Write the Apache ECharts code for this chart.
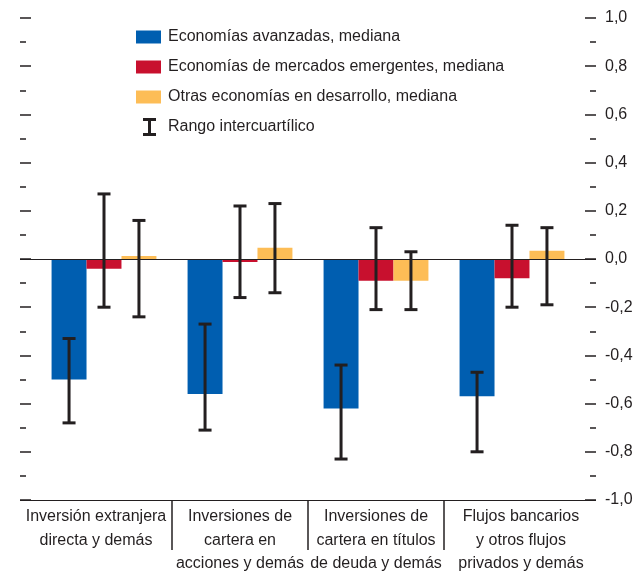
<!DOCTYPE html>
<html><head><meta charset="utf-8">
<script src="https://cdn.jsdelivr.net/npm/echarts@6/dist/echarts.min.js"></script>
<style>html,body{margin:0;padding:0;background:#fff}#c{width:636px;height:571px}</style>
</head><body><div id="c"></div>
<script>
// ---- data ----
const categories = [
  'Inversión extranjera\ndirecta y demás',
  'Inversiones de\ncartera en\nacciones y demás',
  'Inversiones de\ncartera en títulos\nde deuda y demás',
  'Flujos bancarios\ny otros flujos\nprivados y demás'
];
const seriesNames = [
  'Economías avanzadas, mediana',
  'Economías de mercados emergentes, mediana',
  'Otras economías en desarrollo, mediana'
];
const rangeName = 'Rango intercuartílico';
const avanzadas  = [-0.50, -0.56, -0.62, -0.57];
const emergentes = [-0.04, -0.012, -0.09, -0.08];
const otras      = [0.012, 0.047, -0.09, 0.034];
// interquartile ranges [low, high]
const rangoAvanzadas  = [[-0.68, -0.33], [-0.71, -0.27], [-0.83, -0.44], [-0.80, -0.47]];
const rangoEmergentes = [[-0.20, 0.27], [-0.16, 0.22], [-0.21, 0.13], [-0.20, 0.14]];
const rangoOtras      = [[-0.24, 0.16], [-0.14, 0.23], [-0.21, 0.03], [-0.19, 0.13]];
const yMin = -1.0, yMax = 1.0, yStep = 0.2;

// ---- styles ----
const colors = ['#005eb0', '#c8102e', '#fdbd56'];
const ink = '#231f20';
const FONT = '"Liberation Sans", Arial, sans-serif';
const BAR_FRAC = 0.257;
const labelPads = [[0, 16, 0, 0], [0, 0, 0, 0], [0, 0, 0, 0], [0, 0, 0, 18]];

const ranges = [rangoAvanzadas, rangoEmergentes, rangoOtras];
const errData = [];
ranges.forEach((r, s) => r.forEach((v, i) => errData.push([i, s, v[0], v[1]])));

const rich = {};
labelPads.forEach((p, i) => {
  rich['s' + i] = {padding: p, fontSize: 16, lineHeight: 23.5, color: ink, fontFamily: FONT};
});

const chart = echarts.init(document.getElementById('c'), null, {renderer: 'canvas'});
const valueAxisBase = {type: 'value', min: yMin, max: yMax, interval: yStep, gridIndex: 2};
const tickAxis = (pos, showLabel) => Object.assign({}, valueAxisBase, {
  position: pos,
  axisLine: {show: false},
  axisTick: {show: true, inside: true, length: 11, lineStyle: {color: ink, width: 1.5}},
  minorTick: {show: true, splitNumber: 2, length: 6, lineStyle: {color: ink, width: 1.5}},
  splitLine: {show: false},
  axisLabel: {show: showLabel, margin: 9, fontSize: 16, color: ink, fontFamily: FONT,
    formatter: v => v.toFixed(1).replace('.', ',')}
});

chart.setOption({
  animation: false,
  textStyle: {fontFamily: FONT},
  grid: [
    {left: 36, right: 56, top: 18, bottom: 71, outerBoundsMode: 'none', containLabel: false},
    {left: 36, right: 56, top: 500, height: 50, outerBoundsMode: 'none', containLabel: false},
    {left: 20, right: 40, top: 18, bottom: 71, outerBoundsMode: 'none', containLabel: false}
  ],
  legend: [
    {data: seriesNames, orient: 'vertical', left: 136, top: 29, padding: 0,
     itemWidth: 25, itemHeight: 13, itemGap: 14, icon: 'rect', selectedMode: false,
     textStyle: {fontSize: 16, lineHeight: 16, color: ink, fontFamily: FONT, padding: [0, 0, 0, 2]}},
    {data: [rangeName], orient: 'vertical', left: 143, top: 118, padding: 0,
     itemWidth: 13, itemHeight: 18, selectedMode: false,
     icon: 'path://M0,0H13V3H8V15H13V18H0V15H5V3H0Z',
     textStyle: {fontSize: 16, lineHeight: 16, color: ink, fontFamily: FONT, padding: [0, 0, 0, 7]}}
  ],
  xAxis: [
    {type: 'category', gridIndex: 0, data: categories,
     axisLine: {show: false}, axisTick: {show: false}, splitLine: {show: false},
     axisLabel: {interval: 0, fontSize: 16, lineHeight: 23.5, margin: 5, color: ink, fontFamily: FONT,
       formatter: (value, idx) => value.split('\n').map(l => '{s' + idx + '|' + l + '}').join('\n'),
       rich: rich}},
    {type: 'category', gridIndex: 1, data: categories,
     axisLine: {show: false}, axisTick: {show: false}, axisLabel: {show: false},
     splitLine: {show: true, interval: 0, showMinLine: false, showMaxLine: false,
                 lineStyle: {color: ink, width: 1.5}}},
    {type: 'value', gridIndex: 2, min: 0, max: 1, show: false}
  ],
  yAxis: [
    {type: 'value', gridIndex: 0, min: yMin, max: yMax, show: false},
    {type: 'value', gridIndex: 1, show: false},
    tickAxis('left', false),
    tickAxis('right', true),
    {type: 'value', gridIndex: 2, min: yMin, max: yMax, interval: 1, z: 5,
     axisLine: {show: false}, axisTick: {show: false}, axisLabel: {show: false},
     splitLine: {show: true, showMaxLine: false, lineStyle: {color: ink, width: 1.2}}}
  ],
  series: [
    {name: seriesNames[0], type: 'bar', data: avanzadas, barWidth: (BAR_FRAC * 100) + '%', barGap: '0%',
     itemStyle: {color: colors[0]}, xAxisIndex: 0, yAxisIndex: 0},
    {name: seriesNames[1], type: 'bar', data: emergentes, barWidth: (BAR_FRAC * 100) + '%', barGap: '0%',
     itemStyle: {color: colors[1]}, xAxisIndex: 0, yAxisIndex: 0},
    {name: seriesNames[2], type: 'bar', data: otras, barWidth: (BAR_FRAC * 100) + '%', barGap: '0%',
     itemStyle: {color: colors[2]}, xAxisIndex: 0, yAxisIndex: 0},
    {name: rangeName, type: 'custom', xAxisIndex: 0, yAxisIndex: 0, z: 10,
     itemStyle: {color: ink},
     encode: {x: 0, y: [2, 3]},
     data: errData,
     renderItem: function (params, api) {
       const cat = api.value(0), s = api.value(1);
       const band = api.size([1, 0])[0];
       const x = api.coord([cat, 0])[0] + (s - 1) * band * BAR_FRAC;
       const yLo = api.coord([cat, api.value(2)])[1];
       const yHi = api.coord([cat, api.value(3)])[1];
       const hw = 6.5;
       const st = {stroke: ink, lineWidth: 3};
       return {type: 'group', children: [
         {type: 'line', shape: {x1: x, y1: yLo, x2: x, y2: yHi}, style: st},
         {type: 'line', shape: {x1: x - hw, y1: yLo, x2: x + hw, y2: yLo}, style: st},
         {type: 'line', shape: {x1: x - hw, y1: yHi, x2: x + hw, y2: yHi}, style: st}
       ]};
     }}
  ]
});
</script>
</body></html>
